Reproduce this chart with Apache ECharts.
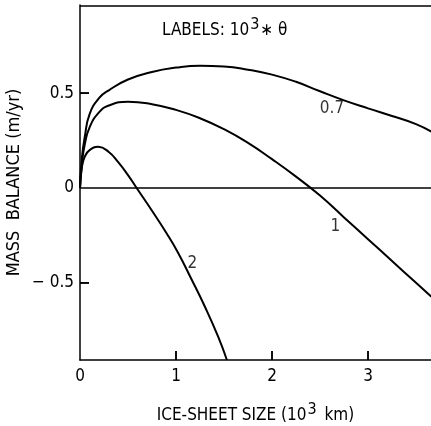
<!DOCTYPE html>
<html>
<head>
<meta charset="utf-8">
<script src="https://cdn.jsdelivr.net/npm/echarts@6/dist/echarts.min.js"></script>
<style>
  html, body { margin: 0; padding: 0; background: #fff; }
  #main { width: 431px; height: 426px; }
</style>
</head>
<body>
<div id="main"></div>
<script>
// ice-sheet size (10^3 km) and mass balance (m/yr), one pair of arrays per curve
var size07 = [0, 0.02, 0.05, 0.1, 0.2, 0.3, 0.5, 0.75, 1.0, 1.25, 1.5, 1.75, 2.0, 2.25, 2.5, 2.75, 3.0, 3.25, 3.5, 3.66];
var balance07 = [0, 0.16, 0.27, 0.39, 0.475, 0.515, 0.572, 0.612, 0.635, 0.645, 0.641, 0.624, 0.598, 0.56, 0.51, 0.462, 0.42, 0.38, 0.337, 0.297];

var size1 = [0, 0.02, 0.05, 0.1, 0.2, 0.3, 0.5, 0.75, 1.0, 1.25, 1.5, 1.75, 2.0, 2.25, 2.5, 2.75, 3.0, 3.25, 3.5, 3.66];
var balance1 = [0, 0.13, 0.23, 0.32, 0.4, 0.435, 0.455, 0.442, 0.412, 0.368, 0.31, 0.238, 0.152, 0.06, -0.04, -0.155, -0.27, -0.385, -0.5, -0.573];

var size2 = [0, 0.02, 0.05, 0.1, 0.19, 0.3, 0.4, 0.5, 0.59, 0.75, 0.9, 1.02, 1.16, 1.3, 1.44, 1.53];
var balance2 = [0, 0.11, 0.165, 0.2, 0.217, 0.19, 0.135, 0.068, 0, -0.12, -0.237, -0.34, -0.48, -0.625, -0.785, -0.907];

// curve labels (10^3 * theta)
var curveLabels = ['0.7', '1', '2'];
var labelX = [2.625, 2.66, 1.17];
var labelY = [0.417, -0.205, -0.4];

var xMin = 0, xMax = 3.656;
var yMin = -0.907, yMax = 0.965;
var xLabels = [0, 1, 2, 3];
var xTicks = [1, 2, 3];
var yLabels = [-0.5, 0, 0.5];
var yTicks = [-0.5, 0.5];

var font = "'DejaVu Sans Condensed', 'DejaVu Sans', sans-serif";

function pairs(xs, ys) {
  return xs.map(function (x, i) { return [x, ys[i]]; });
}

var chartDom = document.getElementById('main');
var myChart = echarts.init(chartDom);
var option;

var lineStyle = { color: '#000', width: 2 };
var tickLen = 9;
var tickStyle = { color: '#000', width: 1.5 };

option = {
  backgroundColor: '#fff',
  animation: false,
  textStyle: { fontFamily: font, color: '#000' },
  title: {
    left: 157,
    top: 12,
    text: '{n|LABELS: 10}{s|3}{n|\u2217 \u03b8}',
    textStyle: {
      fontWeight: 'normal',
      rich: {
        n: { fontFamily: font, fontSize: 17, fontWeight: 'normal', color: '#000', lineHeight: 22, verticalAlign: 'bottom' },
        s: { fontFamily: font, fontSize: 16, fontWeight: 'normal', color: '#000', lineHeight: 22, verticalAlign: 'top', padding: [0, 1, 0, 1] }
      }
    }
  },
  grid: { left: 80, top: 5, right: 0, bottom: 66, outerBoundsMode: 'none', containLabel: false },
  xAxis: {
    type: 'value',
    min: xMin,
    max: xMax,
    name: '{n|ICE-SHEET SIZE (10}{s|3}{n| km)}',
    nameLocation: 'middle',
    nameGap: 42,
    nameTextStyle: {
      rich: {
        n: { fontFamily: font, fontSize: 17, color: '#000', lineHeight: 22, verticalAlign: 'bottom' },
        s: { fontFamily: font, fontSize: 16, color: '#000', lineHeight: 22, verticalAlign: 'top', padding: [0, 3, 0, 1] }
      }
    },
    axisLine: { show: true, onZero: false, lineStyle: { color: '#000', width: 1.5 } },
    axisTick: { show: true, inside: true, length: tickLen, customValues: xTicks, lineStyle: tickStyle },
    axisLabel: { customValues: xLabels, fontSize: 17, color: '#000', fontFamily: font, margin: 8 },
    splitLine: { show: false }
  },
  yAxis: {
    type: 'value',
    min: yMin,
    max: yMax,
    name: 'MASS  BALANCE (m/yr)',
    nameLocation: 'middle',
    nameGap: 57,
    nameMoveOverlap: false,
    nameTextStyle: { fontFamily: font, fontSize: 18, color: '#000' },
    axisLine: { show: true, onZero: false, lineStyle: { color: '#000', width: 1.5 } },
    axisTick: { show: true, inside: true, length: tickLen, customValues: yTicks, lineStyle: tickStyle },
    axisLabel: {
      customValues: yLabels,
      fontSize: 17,
      color: '#000',
      fontFamily: font,
      margin: 6,
      formatter: function (v) { return v < 0 ? '\u2212 ' + Math.abs(v) : String(v); }
    },
    splitLine: { show: false }
  },
  series: [
    {
      name: '0.7',
      type: 'line',
      smooth: 0.5,
      symbol: 'none',
      lineStyle: lineStyle,
      data: pairs(size07, balance07),
      // zero line and top frame
      markLine: {
        silent: true,
        symbol: 'none',
        label: { show: false },
        lineStyle: { color: '#000', width: 1.5, type: 'solid' },
        data: [{ yAxis: 0 }, { yAxis: yMax }]
      }
    },
    {
      name: '1',
      type: 'line',
      smooth: 0.5,
      symbol: 'none',
      lineStyle: lineStyle,
      data: pairs(size1, balance1)
    },
    {
      name: '2',
      type: 'line',
      smooth: 0.5,
      symbol: 'none',
      lineStyle: lineStyle,
      data: pairs(size2, balance2)
    },
    {
      name: 'labels',
      type: 'scatter',
      symbolSize: 0,
      data: curveLabels.map(function (t, i) { return [labelX[i], labelY[i], t]; }),
      label: {
        show: true,
        position: 'inside',
        fontFamily: font,
        fontSize: 17,
        color: '#000',
        formatter: function (p) { return p.value[2]; }
      }
    }
  ]
};

option && myChart.setOption(option);

// inward ticks again as graphics, placed through the chart's own scales
var ticks = [];
xTicks.forEach(function (v) {
  var p = myChart.convertToPixel({ xAxisIndex: 0, yAxisIndex: 0 }, [v, yMin]);
  if (!p) return;
  ticks.push({
    type: 'line',
    shape: { x1: p[0], y1: p[1], x2: p[0], y2: p[1] - tickLen },
    style: { stroke: '#000', lineWidth: 1.5 },
    z: 10
  });
});
yTicks.forEach(function (v) {
  var p = myChart.convertToPixel({ xAxisIndex: 0, yAxisIndex: 0 }, [xMin, v]);
  if (!p) return;
  ticks.push({
    type: 'line',
    shape: { x1: p[0], y1: p[1], x2: p[0] + tickLen, y2: p[1] },
    style: { stroke: '#000', lineWidth: 1.5 },
    z: 10
  });
});
myChart.setOption({ graphic: ticks });
</script>
</body>
</html>
